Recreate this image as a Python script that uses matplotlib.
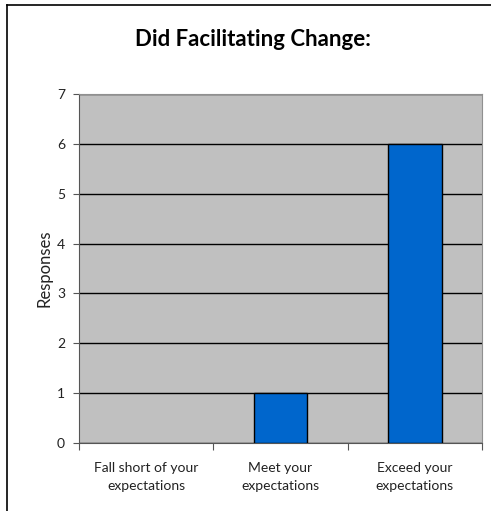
import matplotlib.pyplot as plt
from matplotlib.lines import Line2D

categories = ["Fall short of your\nexpectations", "Meet your\nexpectations", "Exceed your\nexpectations"]
responses = [0, 1, 6]
y_ticks = [0, 1, 2, 3, 4, 5, 6, 7]

plt.rcParams['font.family'] = ['Lato', 'DejaVu Sans']

fig = plt.figure(figsize=(4.91, 5.11), dpi=100)
ax = fig.add_axes([79 / 491, 1 - 443 / 511, 403 / 491, 349 / 511])
ax.set_facecolor('#C0C0C0')

x = list(range(len(categories)))
edge_w = [1 if v > 0 else 0 for v in responses]
ax.bar(x, responses, width=0.4, color='#0066CC', edgecolor='black', linewidth=edge_w, zorder=3)

ax.set_xlim(-0.5, 2.5)
ax.set_ylim(0, 7)
ax.set_yticks(y_ticks)
ax.yaxis.grid(True, color='black', linewidth=1, zorder=1)
ax.set_axisbelow(True)

# category boundaries as major ticks, labels on minor ticks
ax.set_xticks([-0.5, 0.5, 1.5, 2.5])
ax.set_xticklabels([])
ax.set_xticks(x, minor=True)
ax.set_xticklabels(categories, minor=True, fontsize=10, color='#222222', linespacing=1.6)
ax.tick_params(axis='x', which='minor', length=0, pad=14)
ax.tick_params(axis='x', which='major', length=5, color='#555555')
ax.tick_params(axis='y', length=4, color='#555555', labelsize=10, labelcolor='#222222', pad=6)

for s in ['top', 'right']:
    ax.spines[s].set_color('#909090')
for s in ['left', 'bottom']:
    ax.spines[s].set_color('#555555')

ax.set_ylabel('Responses', fontsize=12, labelpad=3, color='#222222')
fig.text(253 / 491, 1 - 40 / 511, 'Did Facilitating Change:', ha='center', va='center',
         fontsize=16, fontweight='bold')

# outer frame (left and top edges)
fig.add_artist(Line2D([6.5 / 491, 6.5 / 491], [0, 1 - 5 / 511], color='black', linewidth=1.2))
fig.add_artist(Line2D([6.5 / 491, 1], [1 - 5 / 511, 1 - 5 / 511], color='black', linewidth=1.2))

fig.savefig('out.png', dpi=100)
